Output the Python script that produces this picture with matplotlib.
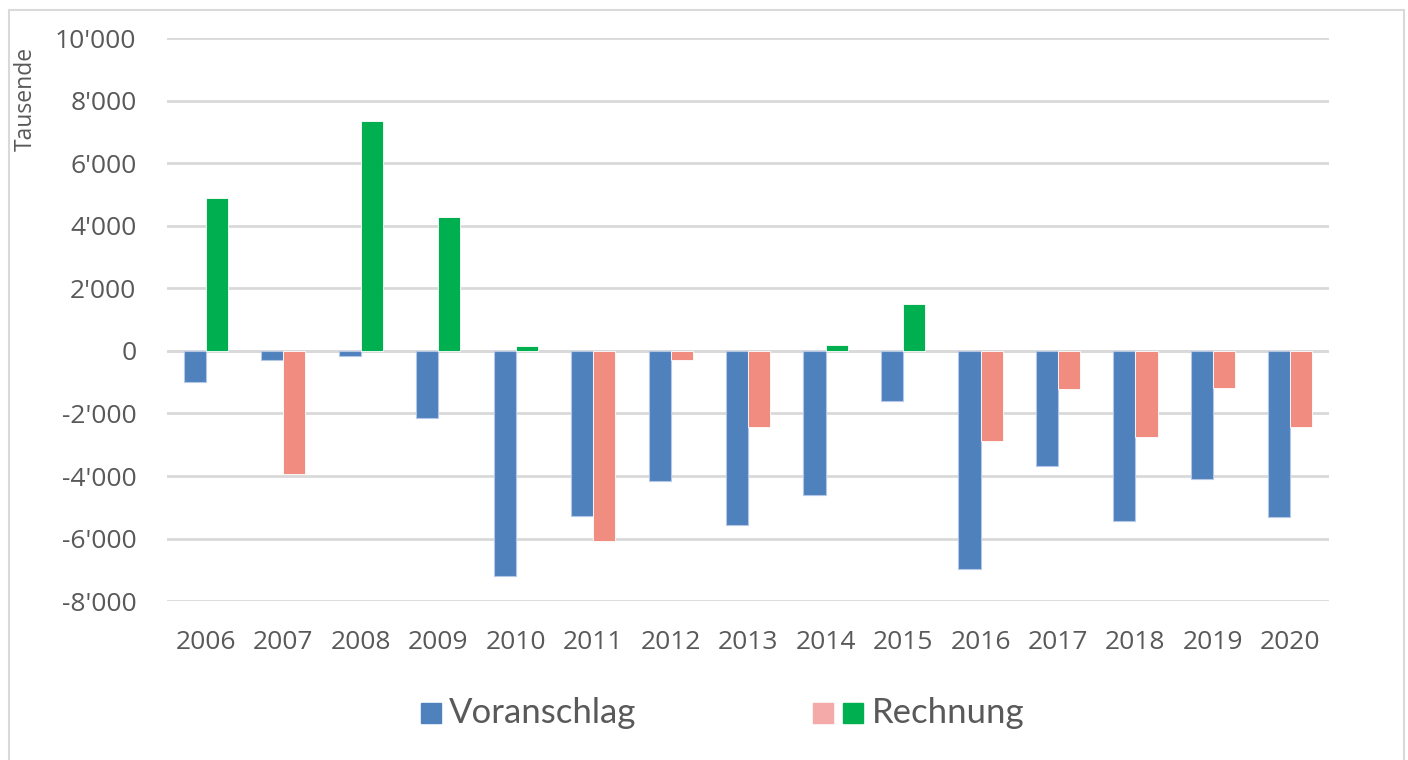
import numpy as np
import matplotlib.pyplot as plt
from matplotlib.patches import Rectangle
from matplotlib.ticker import FuncFormatter

plt.rcParams['font.family'] = ['Open Sans', 'DejaVu Sans']

jahre = ['2006', '2007', '2008', '2009', '2010', '2011', '2012', '2013',
         '2014', '2015', '2016', '2017', '2018', '2019', '2020']
voranschlag = [-1000, -290, -160, -2150, -7190, -5280, -4170, -5580,
               -4620, -1610, -6960, -3670, -5440, -4080, -5300]
rechnung = [4900, -3930, 7360, 4270, 170, -6070, -290, -2430,
            180, 1490, -2880, -1210, -2750, -1180, -2430]

blau = '#4F81BD'
rot = '#F18C80'
rot_legende = '#F4AAA8'
gruen = '#00B050'
grau = '#595959'

fig = plt.figure(figsize=(14.08, 7.6), dpi=100)
ax = fig.add_axes([0.1186, 0.209, 0.8254, 0.741])

# Rahmen um das ganze Diagramm
fig.patches.append(Rectangle((0.0065, -0.01), 0.9905, 0.997, transform=fig.transFigure,
                             fill=False, edgecolor='#D9D9D9', linewidth=1.5))

x = np.arange(len(jahre))
b = 0.285
farben_r = [gruen if v > 0 else rot for v in rechnung]

ax.bar(x - b / 2, voranschlag, b, color=blau, edgecolor='#B4C7E7', linewidth=0.8, zorder=3)
ax.bar(x + b / 2, rechnung, b, color=farben_r, edgecolor='white', linewidth=0.6, zorder=3)

ax.set_xlim(-0.5, len(jahre) - 0.5)
ax.set_ylim(-8000, 10000)
ax.set_yticks(np.arange(-8000, 10001, 2000))
ax.yaxis.set_major_formatter(FuncFormatter(lambda v, p: f"{int(v):,}".replace(',', "'")))
ax.set_xticks(x)
ax.set_xticklabels(jahre)

ax.grid(axis='y', color='#D9D9D9', linewidth=2, zorder=0)
ax.axhline(0, color='#D9D9D9', linewidth=2, zorder=1)
for s in ax.spines.values():
    s.set_visible(False)
ax.tick_params(length=0, labelsize=19, colors=grau)
ax.tick_params(axis='y', pad=22)
ax.tick_params(axis='x', pad=21)

fig.text(0.0185, 0.87, 'Tausende', rotation=90, ha='center', va='center', fontsize=16.5, color=grau)

# Legende unten, von Hand gezeichnet (Rechnung hat zwei Farben)
def kaestchen(x0, farbe):
    fig.patches.append(Rectangle((x0, 0.049), 0.0142, 0.026, transform=fig.transFigure,
                                 color=farbe))

kaestchen(0.299, blau)
fig.text(0.3185, 0.062, 'Voranschlag', fontsize=25, color=grau, va='center', ha='left',
         family=['Lato', 'DejaVu Sans'])
kaestchen(0.5775, rot_legende)
kaestchen(0.5988, gruen)
fig.text(0.619, 0.062, 'Rechnung', fontsize=25, color=grau, va='center', ha='left',
         family=['Lato', 'DejaVu Sans'])

fig.savefig('out.png', dpi=100)
